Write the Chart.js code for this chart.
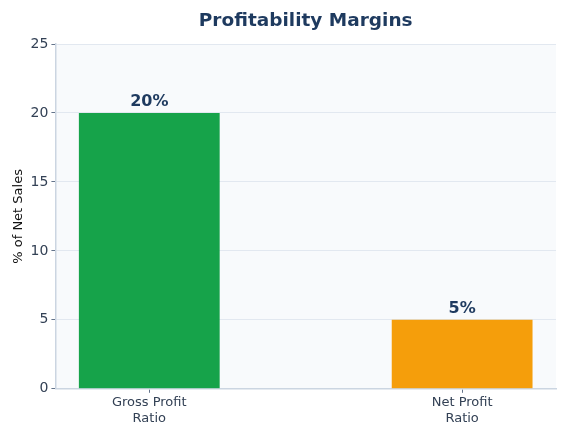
<!DOCTYPE html>
<html>
<head>
<meta charset="utf-8">
<script src="https://cdn.jsdelivr.net/npm/chart.js@4"></script>
<style>
  html, body { margin: 0; padding: 0; background: #ffffff; }
  #wrap { width: 570px; height: 438px; }
</style>
</head>
<body>
<div id="wrap"><canvas id="marginChart"></canvas></div>
<script>
// chart data
const categories = [['Gross Profit', 'Ratio'], ['Net Profit', 'Ratio']];
const positions = [0, 1];
const marginValues = [20, 5];
const barColors = ['#16a34a', '#f59e0b'];
const yTicks = [0, 5, 10, 15, 20, 25];
const chartTitle = 'Profitability Margins';

const FONT = "'DejaVu Sans', sans-serif";

// light panel behind the plot area
const plotBackground = {
    id: 'plotBackground',
    beforeDraw(chart) {
        const { ctx, chartArea } = chart;
        ctx.save();
        ctx.fillStyle = '#f8fafc';
        ctx.fillRect(chartArea.left, chartArea.top, chartArea.right - chartArea.left, chartArea.bottom - chartArea.top);
        ctx.restore();
    }
};

// title centred over the plot area, not the whole canvas
const plotTitle = {
    id: 'plotTitle',
    afterDraw(chart) {
        const { ctx, chartArea } = chart;
        ctx.save();
        ctx.font = "bold 18.5px " + FONT;
        ctx.fillStyle = '#1e3a5f';
        ctx.textAlign = 'center';
        ctx.textBaseline = 'middle';
        ctx.fillText(chartTitle, (chartArea.left + chartArea.right) / 2, 21);
        ctx.restore();
    }
};

// value labels on top of bars
const barLabels = {
    id: 'barLabels',
    afterDatasetsDraw(chart) {
        const { ctx } = chart;
        const meta = chart.getDatasetMeta(0);
        ctx.save();
        ctx.font = "bold 16px " + FONT;
        ctx.fillStyle = '#1e3a5f';
        ctx.textAlign = 'center';
        ctx.textBaseline = 'bottom';
        meta.data.forEach((bar, i) => {
            ctx.fillText(marginValues[i] + '%', bar.x, bar.y - 3);
        });
        ctx.restore();
    }
};

new Chart(document.getElementById('marginChart'), {
    type: 'bar',
    data: {
        datasets: [{
            data: positions.map((x, i) => ({ x: x, y: marginValues[i] })),
            backgroundColor: barColors,
            borderWidth: 0,
            barPercentage: 0.45,
            categoryPercentage: 1
        }]
    },
    options: {
        responsive: true,
        maintainAspectRatio: false,
        animation: false,
        layout: { padding: { top: 44, right: 14, left: 11, bottom: 10 } },
        plugins: {
            legend: { display: false },
            tooltip: { enabled: false },
            title: { display: false }
        },
        scales: {
            x: {
                type: 'linear',
                min: -0.3,
                max: 1.3,
                offset: false,
                afterBuildTicks(scale) {
                    scale.ticks = positions.map(v => ({ value: v }));
                },
                ticks: {
                    color: '#334155',
                    font: { family: FONT, size: 13 },
                    padding: 2,
                    maxRotation: 0,
                    autoSkip: false,
                    callback: (value) => categories[positions.indexOf(value)]
                },
                grid: {
                    offset: false,
                    drawOnChartArea: false,
                    tickLength: 4,
                    tickColor: '#64748b'
                },
                border: { color: '#cbd5e1', width: 1.5 }
            },
            y: {
                min: 0,
                max: 25,
                afterBuildTicks(scale) {
                    scale.ticks = yTicks.map(v => ({ value: v }));
                },
                title: {
                    display: true,
                    text: '% of Net Sales',
                    color: '#111111',
                    font: { family: FONT, size: 13 },
                    padding: { top: 0, bottom: 1 }
                },
                ticks: {
                    color: '#334155',
                    font: { family: FONT, size: 14 },
                    padding: 3
                },
                grid: {
                    color: '#e2e8f0',
                    tickLength: 4,
                    tickColor: '#64748b'
                },
                border: { color: '#cbd5e1', width: 1.5 }
            }
        }
    },
    plugins: [plotBackground, barLabels, plotTitle]
});
</script>
</body>
</html>
